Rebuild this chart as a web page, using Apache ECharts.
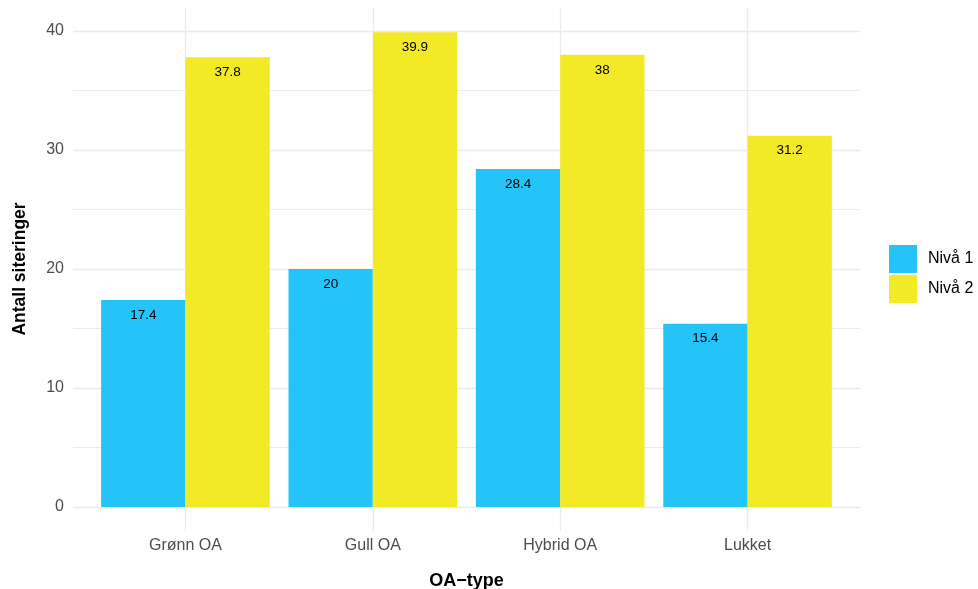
<!DOCTYPE html>
<html>
<head>
<meta charset="utf-8">
<script src="https://cdn.jsdelivr.net/npm/echarts@6/dist/echarts.min.js"></script>
<style>
html,body{margin:0;padding:0;background:#fff;}
#chart{width:978px;height:589px;}
</style>
</head>
<body>
<div id="chart"></div>
<script>
const categories = ['Grønn OA', 'Gull OA', 'Hybrid OA', 'Lukket'];
const seriesNames = ['Nivå 1', 'Nivå 2'];
const niva1 = [17.4, 20, 28.4, 15.4];
const niva2 = [37.8, 39.9, 38, 31.2];
const yTicks = [0, 10, 20, 30, 40];

const FONT = 'Liberation Sans, Arial, Helvetica, sans-serif';
const chart = echarts.init(document.getElementById('chart'), null, {renderer: 'canvas'});

const pos = categories.map((c, i) => i + 1);
function toData(vals) { return vals.map((v, i) => [pos[i], v]); }

const labelCfg = {
  show: true,
  position: 'insideTop',
  distance: 8,
  color: '#000',
  fontSize: 13.5,
  fontFamily: FONT,
  formatter: p => String(p.value[1])
};

const option = {
  animation: false,
  backgroundColor: '#fff',
  grid: [
    {left: 185.4, right: 230.4, top: 8, bottom: 58, containLabel: false, outerBoundsMode: 'none'},
    {left: 73, right: 118, top: 31, bottom: 82, containLabel: false, outerBoundsMode: 'none'}
  ],
  xAxis: [
    {
      gridIndex: 0, type: 'category', data: categories, boundaryGap: false,
      axisLine: {show: false}, axisTick: {show: false},
      axisLabel: {color: '#4d4d4d', fontSize: 16, fontFamily: FONT, margin: 7},
      splitLine: {show: true, lineStyle: {color: '#ebebeb', width: 1.3}},
      name: 'OA−type', nameLocation: 'middle', nameGap: 41,
      nameTextStyle: {color: '#000', fontSize: 18, fontWeight: 'bold', fontFamily: FONT}
    },
    {
      gridIndex: 1, type: 'value', min: 0.4, max: 4.6, show: false
    }
  ],
  yAxis: [
    {gridIndex: 0, type: 'value', min: -1.995, max: 41.895, show: false},
    {
      gridIndex: 1, type: 'value', min: 0, max: 40, interval: 10,
      axisLine: {show: false}, axisTick: {show: false},
      axisLabel: {color: '#4d4d4d', fontSize: 16, fontFamily: FONT, margin: 9,
        padding: [3, 0, 0, 0],
        formatter: v => yTicks.includes(v) ? String(v) : ''},
      splitLine: {show: true, lineStyle: {color: '#ebebeb', width: 1.3}},
      minorTick: {show: false, splitNumber: 2},
      minorSplitLine: {show: true, lineStyle: {color: '#ebebeb', width: 1.1}},
      name: 'Antall siteringer', nameLocation: 'middle', nameRotate: 90, nameGap: 44,
      nameTextStyle: {color: '#000', fontSize: 17.5, fontWeight: 'bold', fontFamily: FONT}
    }
  ],
  legend: {
    orient: 'vertical', left: 889, top: 245, padding: 0,
    itemWidth: 28, itemHeight: 28, itemGap: 2,
    icon: 'rect',
    data: seriesNames,
    textStyle: {color: '#000', fontSize: 16, fontFamily: FONT, padding: [0, 0, 0, 6]}
  },
  series: [
    {
      name: seriesNames[0], type: 'bar', xAxisIndex: 1, yAxisIndex: 1,
      data: toData(niva1), barWidth: 84.3, barGap: '0%',
      itemStyle: {color: '#25c4f8'}, label: labelCfg
    },
    {
      name: seriesNames[1], type: 'bar', xAxisIndex: 1, yAxisIndex: 1,
      data: toData(niva2), barWidth: 84.3, barGap: '0%',
      itemStyle: {color: '#f2ea27'}, label: labelCfg
    }
  ]
};
chart.setOption(option);
</script>
</body>
</html>
